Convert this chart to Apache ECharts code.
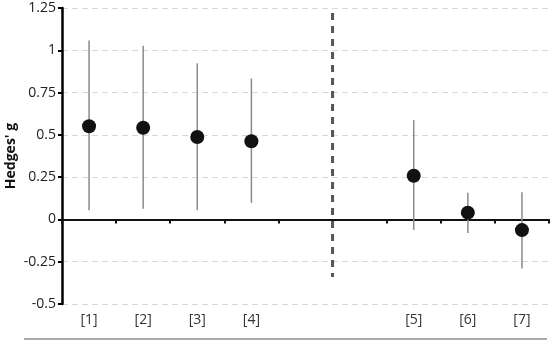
<!DOCTYPE html>
<html><head><meta charset="utf-8">
<script src="https://cdn.jsdelivr.net/npm/echarts@6/dist/echarts.min.js"></script>
<style>html,body{margin:0;padding:0;background:#fff}#c{width:557px;height:344px}</style>
</head><body><div id="c"></div>
<script>
var categories = ['[1]','[2]','[3]','[4]','','','[5]','[6]','[7]'];
var estimates = [0.551, 0.542, 0.487, 0.462, null, null, 0.258, 0.04, -0.063];
var lower = [0.055, 0.063, 0.055, 0.098, null, null, -0.062, -0.08, -0.29];
var upper = [1.058, 1.027, 0.923, 0.833, null, null, 0.587, 0.157, 0.16];
var separatorX = 5;
var separatorRange = [1.22, -0.34];
var yTicks = [-0.5, -0.25, 0, 0.25, 0.5, 0.75, 1, 1.25];

var font = 'Open Sans';
var chart = echarts.init(document.getElementById('c'));
var ciData = categories.map(function(c, i){ return [i, lower[i], upper[i]]; }).filter(function(d){return d[1]!=null;});
var ptData = categories.map(function(c, i){ return [i, estimates[i]]; }).filter(function(d){return d[1]!=null;});
chart.setOption({
  animation:false,
  grid:{left:62,right:8,top:8,bottom:40,containLabel:false,outerBoundsMode:'none'},
  xAxis:[
    {type:'category',data:categories,boundaryGap:true,
     axisLine:{onZero:true,lineStyle:{color:'#111',width:2}},
     axisTick:{show:true,length:4,inside:false,alignWithLabel:false,lineStyle:{color:'#111',width:2}},
     axisLabel:{show:false}},
    {type:'category',data:categories,boundaryGap:true,position:'bottom',
     axisLine:{show:false,onZero:false},axisTick:{show:false},
     axisLabel:{show:true,margin:9,fontFamily:font,fontSize:14,color:'#333'}},
    {type:'value',min:0,max:9,show:false}
  ],
  yAxis:{type:'value',min:-0.5,max:1.25,interval:0.25,
    name:"Hedges' g",nameLocation:'middle',nameGap:44,nameRotate:90,nameMoveOverlap:false,
    nameTextStyle:{fontFamily:font,fontSize:14,fontWeight:'bold',color:'#111'},
    axisLine:{show:true,onZero:false,lineStyle:{color:'#000',width:2.5}},
    axisTick:{show:true,length:4,lineStyle:{color:'#000',width:2}},
    axisLabel:{fontFamily:font,fontSize:14,color:'#222',margin:6,
      formatter:function(v){var s=yTicks.filter(function(t){return Math.abs(t-v)<1e-9;}); return s.length?String(s[0]):'';}},
    splitLine:{show:true,lineStyle:{color:'#d6d6d6',type:[6,4],width:1}}
  },
  series:[
    {type:'custom',xAxisIndex:0,data:ciData,
     renderItem:function(params,api){
       var p1=api.coord([api.value(0),api.value(1)]);
       var p2=api.coord([api.value(0),api.value(2)]);
       return {type:'line',shape:{x1:p1[0],y1:p1[1],x2:p2[0],y2:p2[1]},style:{stroke:'#8a8a8a',lineWidth:1.5}};
     },z:2},
    {type:'scatter',xAxisIndex:0,data:ptData,symbolSize:14,itemStyle:{color:'#111',opacity:1},z:3},
    {type:'line',xAxisIndex:2,data:[[separatorX,separatorRange[0]],[separatorX,separatorRange[1]]],
     symbol:'none',lineStyle:{color:'#555',width:3,type:[7,6]},z:4}
  ],
  graphic:[{type:'line',shape:{x1:24,y1:339,x2:547,y2:339},style:{stroke:'#aaa',lineWidth:2}}]
});
</script></body></html>
